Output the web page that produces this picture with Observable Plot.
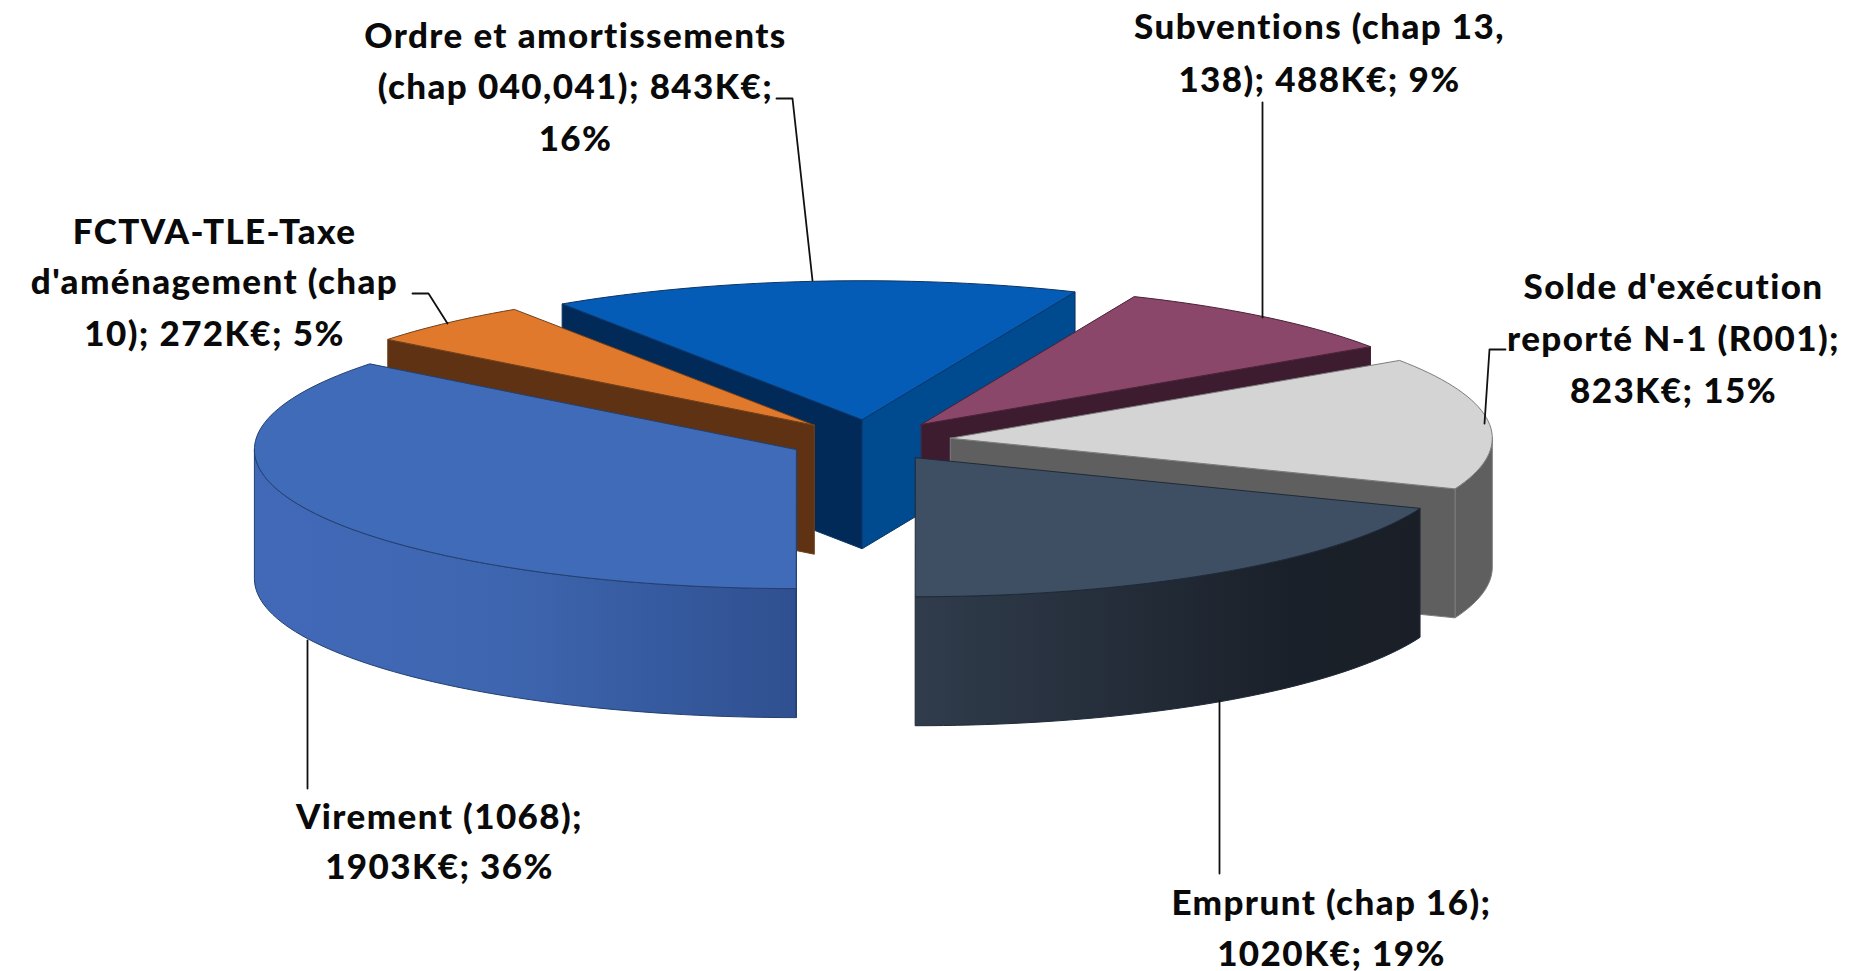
<!DOCTYPE html>
<html lang="fr">
<head>
<meta charset="utf-8">
<title>Recettes d'investissement</title>
<script src="https://cdn.jsdelivr.net/npm/d3@7"></script>
<script src="https://cdn.jsdelivr.net/npm/@observablehq/plot@0.6"></script>
<style>
  html, body { margin: 0; padding: 0; background: #fff; }
  svg { display: block; }
  svg text { letter-spacing: 1.4px; }
</style>
</head>
<body>
<div id="chart"></div>
<script>
// Data: clockwise from the first slice
const names = ["Ordre", "Subventions", "Solde", "Emprunt", "Virement", "FCTVA"];
const values = [843, 488, 823, 1020, 1903, 272];

// Labels, one array of lines per slice
const labelLines = [
  ["Ordre et amortissements", "(chap 040,041); 843K€;", "16%"],
  ["Subventions (chap 13,", "138); 488K€; 9%"],
  ["Solde d'exécution", "reporté N-1 (R001);", "823K€; 15%"],
  ["Emprunt (chap 16);", "1020K€; 19%"],
  ["Virement (1068);", "1903K€; 36%"],
  ["FCTVA-TLE-Taxe", "d'aménagement (chap", "10); 272K€; 5%"]
];
const labelCenterX = [575, 1319, 1673, 1331, 439, 214];
const labelBaselineY = [[47, 98, 150], [38, 91], [298, 350, 402], [914, 965], [828, 878], [243, 293, 345]];

// Leader lines, in the chart's coordinate system
const leaders = [
  [[776, 98], [792, 98], [812, 280]],
  [[1262, 102], [1262, 317]],
  [[1505, 349], [1489, 349], [1484, 423]],
  [[1219, 700], [1219, 873]],
  [[307, 640], [307, 788]],
  [[412, 293], [428, 293], [447, 323]]
];

// Colours per slice
const topColor = ["#055cb6", "#8a4769", "#d4d4d4", "#3e4f63", "#3f6bb9", "#e0792c"];
const edgeColor = ["#0a3566", "#4a2238", "#7d7d7d", "#1f2a38", "#23406f", "#70401a"];
const startWallColor = ["#022a59", "#3d1c30", "#5f5f5f", "#2a3644", "#2f5190", "#5f3213"];
const endWallColor = ["#004a90", "#3d1c30", "#5f5f5f", "#2a3644", "#2f5190", "#5f3213"];
const outerWallColor = ["#004a90", "#3d1c30", "#5f5f5f", "url(#wallEmprunt)", "url(#wallVirement)", "#5f3213"];

// Draw order, back to front
const paintOrder = [0, 5, 1, 2, 4, 3];

// Pie projection
const pie = { cx: 869, cy: 440, rx: 542, ry: 139, depth: 129, explode: 0.15, firstAngle: 326.4 };

const rad = (d) => (d * Math.PI) / 180;
const total = d3.sum(values);
const spans = values.map((v) => (v / total) * 360);

function place(a, r, ox, oy, drop = 0) {
  return { x: ox + r * pie.rx * Math.sin(rad(a)), y: oy - r * pie.ry * Math.cos(rad(a)) + drop };
}
function arc(a0, a1, ox, oy, drop = 0) {
  const n = Math.max(2, Math.ceil((a1 - a0) / 1.5));
  return d3.range(n + 1).map((i) => place(a0 + ((a1 - a0) * i) / n, 1, ox, oy, drop));
}

let cursor = pie.firstAngle;
const slices = values.map((v, i) => {
  const a0 = cursor % 360;
  const a1 = a0 + spans[i];
  cursor += spans[i];
  const mid = (a0 + a1) / 2;
  const apex = place(mid, pie.explode, pie.cx, pie.cy);
  return { i, a0, a1, ox: apex.x, oy: apex.y };
});

const pieces = [];
for (const k of paintOrder) {
  const { i, a0, a1, ox, oy } = slices[k];
  const low = Math.max(a0, 90), high = Math.min(a1, 270);
  if (low < high) {
    const upper = arc(low, high, ox, oy);
    const lower = arc(low, high, ox, oy, pie.depth).reverse();
    pieces.push({ pts: [...upper, ...lower, upper[0]], fill: outerWallColor[i], stroke: edgeColor[i] });
  }
  const wall = (a, fill) => {
    const p = place(a, 1, ox, oy), q = place(a, 1, ox, oy, pie.depth);
    const c = { x: ox, y: oy }, d = { x: ox, y: oy + pie.depth };
    pieces.push({ pts: [c, p, q, d, c], fill, stroke: edgeColor[i] });
  };
  if (Math.sin(rad(a0)) < -1e-6) wall(a0, startWallColor[i]);
  if (Math.sin(rad(a1)) > 1e-6) wall(a1, endWallColor[i]);
  const face = [{ x: ox, y: oy }, ...arc(a0, a1, ox, oy), { x: ox, y: oy }];
  pieces.push({ pts: face, fill: topColor[i], stroke: edgeColor[i] });
}

const labelRows = labelLines.flatMap((lines, i) =>
  lines.map((text, j) => ({ text, x: labelCenterX[i], y: labelBaselineY[i][j] }))
);

const gradients = () => {
  const ns = "http://www.w3.org/2000/svg";
  const defs = document.createElementNS(ns, "defs");
  const add = (id, stops) => {
    const g = document.createElementNS(ns, "linearGradient");
    g.setAttribute("id", id);
    for (const [offset, color] of stops) {
      const s = document.createElementNS(ns, "stop");
      s.setAttribute("offset", offset);
      s.setAttribute("stop-color", color);
      g.appendChild(s);
    }
    defs.appendChild(g);
  };
  add("wallVirement", [[0, "#4169b8"], [0.45, "#3e66b0"], [1, "#2f5090"]]);
  add("wallEmprunt", [[0, "#303c4c"], [0.75, "#1a2029"], [1, "#1a1f27"]]);
  return defs;
};

const plot = Plot.plot({
  width: 1863,
  height: 971,
  margin: 0,
  x: { domain: [0, 1863], axis: null },
  y: { domain: [971, 0], axis: null },
  style: { background: "#fff" },
  marks: [
    gradients,
    ...pieces.map((p) =>
      Plot.line(p.pts, { x: "x", y: "y", fill: p.fill, stroke: p.stroke, strokeWidth: 1, curve: "linear", strokeLinejoin: "round" })
    ),
    ...leaders.map((l) =>
      Plot.line(l, { x: (d) => d[0], y: (d) => d[1], stroke: "#111", strokeWidth: 1.8, curve: "linear" })
    ),
    Plot.text(labelRows, {
      x: "x",
      y: "y",
      text: "text",
      textAnchor: "middle",
      lineAnchor: "bottom",
      fontFamily: "Lato",
      fontWeight: 900,
      fontSize: 35,
      fill: "#0a0a0a"
    })
  ]
});
document.getElementById("chart").appendChild(plot);
</script>
</body>
</html>
